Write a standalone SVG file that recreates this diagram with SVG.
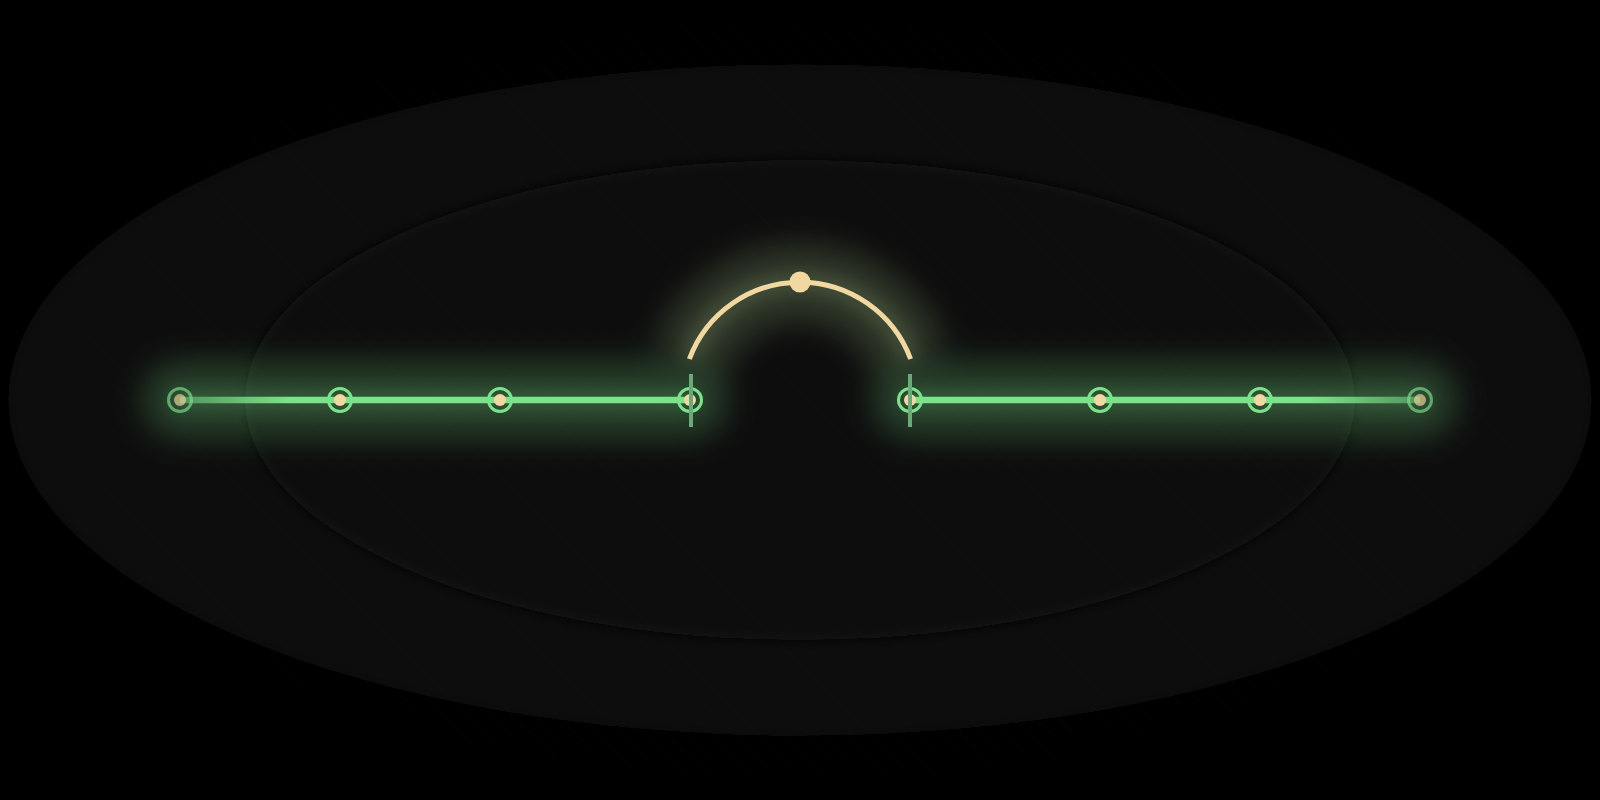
<svg xmlns="http://www.w3.org/2000/svg" width="1600" height="800" viewBox="0 0 1600 800">
  <defs>
    <pattern id="hatch" width="16" height="16" patternUnits="userSpaceOnUse" patternTransform="rotate(-45)">
      <line x1="0" y1="0" x2="0" y2="16" stroke="#ffffff" stroke-opacity="0.025" stroke-width="1"/>
    </pattern>
    <radialGradient id="hatchFade" cx="800" cy="400" r="820" gradientUnits="userSpaceOnUse" gradientTransform="translate(800 400) scale(1 0.5) translate(-800 -400)">
      <stop offset="0" stop-color="#fff" stop-opacity="1"/>
      <stop offset="0.85" stop-color="#fff" stop-opacity="1"/>
      <stop offset="1" stop-color="#fff" stop-opacity="0"/>
    </radialGradient>
    <mask id="hatchMask" maskUnits="userSpaceOnUse" x="0" y="0" width="1600" height="800">
      <rect x="0" y="0" width="1600" height="800" fill="url(#hatchFade)"/>
    </mask>
    <filter id="soft" x="-10%" y="-10%" width="120%" height="120%">
      <feGaussianBlur stdDeviation="6"/>
    </filter>
    <filter id="glowWide" filterUnits="userSpaceOnUse" x="0" y="100" width="1600" height="500">
      <feGaussianBlur stdDeviation="16"/>
    </filter>
    <filter id="glowNarrow" filterUnits="userSpaceOnUse" x="0" y="100" width="1600" height="500">
      <feGaussianBlur stdDeviation="8"/>
    </filter>
    <linearGradient id="fadeL" gradientUnits="userSpaceOnUse" x1="180" y1="0" x2="290" y2="0">
      <stop offset="0" stop-color="#7be38a" stop-opacity="0.45"/>
      <stop offset="1" stop-color="#7be38a" stop-opacity="1"/>
    </linearGradient>
    <linearGradient id="fadeR" gradientUnits="userSpaceOnUse" x1="1420" y1="0" x2="1310" y2="0">
      <stop offset="0" stop-color="#7be38a" stop-opacity="0.45"/>
      <stop offset="1" stop-color="#7be38a" stop-opacity="1"/>
    </linearGradient>
  </defs>
  <style>
    .ring{fill:none;stroke:#7be38a;stroke-width:3}
    .dot{fill:#f0d8a0}
    .end{opacity:0.65}
    .tick{stroke:#6aaa78;stroke-width:4}
    .seg{stroke-width:6.5;fill:none}
    .gw{stroke:#7be38a;stroke-width:76;stroke-linecap:round;fill:none}
    .gn{stroke:#7be38a;stroke-width:20;stroke-linecap:round;fill:none}
    .aw{stroke:#98bc80;stroke-width:76;fill:none}
    .an{stroke:#b0c890;stroke-width:20;fill:none}
  </style>

  <rect x="0" y="0" width="1600" height="800" fill="#000"/>
  <g id="background">
    <ellipse cx="800" cy="400" rx="792" ry="336" fill="#070807" filter="url(#soft)"/>
    <ellipse cx="800" cy="400" rx="555" ry="240" fill="#0a0c0a" filter="url(#soft)"/>
    <rect x="0" y="0" width="1600" height="800" fill="url(#hatch)" mask="url(#hatchMask)"/>
  </g>

  <g id="glow-halo">
    <g filter="url(#glowWide)" opacity="0.24">
      <line class="gw" x1="180" y1="400" x2="690" y2="400"/>
      <line class="gw" x1="910" y1="400" x2="1420" y2="400"/>
      <path class="aw" d="M689.4 359 A118 118 0 0 1 910.6 359"/>
    </g>
    <g filter="url(#glowNarrow)" opacity="0.16">
      <line class="gn" x1="180" y1="400" x2="690" y2="400"/>
      <line class="gn" x1="910" y1="400" x2="1420" y2="400"/>
      <path class="an" d="M689.4 359 A118 118 0 0 1 910.6 359"/>
    </g>
  </g>

  <g id="connectors">
    <line class="seg" x1="180" y1="400" x2="690" y2="400" stroke="url(#fadeL)"/>
    <line class="seg" x1="910" y1="400" x2="1420" y2="400" stroke="url(#fadeR)"/>
    <path id="arc" d="M689.4 359 A118 118 0 0 1 910.6 359" fill="none" stroke="#f0d8a0" stroke-width="5"/>
  </g>

  <g id="node-1" class="end"><circle class="ring" cx="180" cy="400" r="11.5"/><circle class="dot" cx="180" cy="400" r="6"/></g>
  <g id="node-2"><circle class="ring" cx="340" cy="400" r="11.5"/><circle class="dot" cx="340" cy="400" r="6"/></g>
  <g id="node-3"><circle class="ring" cx="500" cy="400" r="11.5"/><circle class="dot" cx="500" cy="400" r="6"/></g>
  <g id="node-4"><circle class="ring" cx="690" cy="400" r="11.5"/><circle class="dot" cx="690" cy="400" r="6"/><line class="tick" x1="691" y1="374" x2="691" y2="427"/></g>
  <g id="node-top"><circle class="dot" cx="800" cy="282" r="10.5"/></g>
  <g id="node-5"><circle class="ring" cx="910" cy="400" r="11.5"/><circle class="dot" cx="910" cy="400" r="6"/><line class="tick" x1="910" y1="374" x2="910" y2="427"/></g>
  <g id="node-6"><circle class="ring" cx="1100" cy="400" r="11.5"/><circle class="dot" cx="1100" cy="400" r="6"/></g>
  <g id="node-7"><circle class="ring" cx="1260" cy="400" r="11.5"/><circle class="dot" cx="1260" cy="400" r="6"/></g>
  <g id="node-8" class="end"><circle class="ring" cx="1420" cy="400" r="11.5"/><circle class="dot" cx="1420" cy="400" r="6"/></g>
</svg>
